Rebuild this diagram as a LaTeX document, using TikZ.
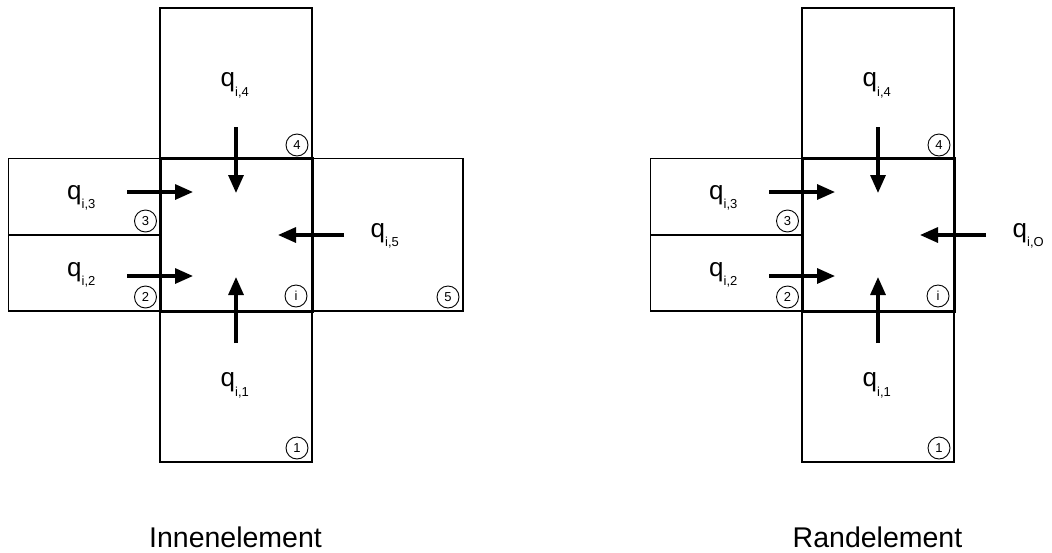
\documentclass[tikz,border=0pt]{standalone}
\usepackage{fontspec}
\setmainfont{Liberation Sans}
\usetikzlibrary{arrows.meta}
\newcommand\qlab[1]{{\fontsize{26}{28}\selectfont q}\raisebox{-9.5pt}{\fontsize{13}{14}\selectfont #1}}
\tikzset{
  cellline/.style={draw=black, line width=1.2pt},
  mainline/.style={draw=black, line width=3pt},
  flow/.style={line width=3.2pt, -{Triangle[length=18pt,width=15pt]}},
  num/.style={circle, draw, line width=0.9pt, inner sep=0pt, minimum size=22pt, font=\fontsize{13}{14}\selectfont},
  qlabel/.style={anchor=base west, inner sep=0pt},
  caption/.style={anchor=base, inner sep=0pt, font=\fontsize{28.5}{30}\selectfont}
}
\begin{document}
\begin{tikzpicture}[x=1pt, y=-1pt]
\useasboundingbox (0,0) rectangle (1052,552);
\foreach \s/\dx/\lab/\cap in {L/0/5/Innenelement, R/642/O/Randelement} {
  \begin{scope}[xshift=\dx pt]
    % neighbouring cells
    \draw[cellline] (160,8) rectangle (312,158.5);
    \draw[cellline] (160,311) rectangle (312,462);
    \draw[cellline] (8.5,158.5) rectangle (160,235);
    \draw[cellline] (8.5,235) rectangle (160,311);
    % element i
    \draw[mainline] (160,158.5) rectangle (312,311);
    % cell numbers
    \node[num] (n4\s) at (297,145) {4};
    \node[num] (n3\s) at (145.5,221) {3};
    \node[num] (n2\s) at (145.5,297) {2};
    \node[num] (ni\s) at (296,296) {i};
    \node[num] (n1\s) at (297,448) {1};
    % flow arrows
    \coordinate (s3\s) at (127,192);  \coordinate (e3\s) at (193,192);
    \coordinate (s2\s) at (127,276);  \coordinate (e2\s) at (193,276);
    \coordinate (s4\s) at (236,127);  \coordinate (e4\s) at (236,193);
    \coordinate (s1\s) at (236,343);  \coordinate (e1\s) at (236,277);
    \coordinate (s5\s) at (344,235);  \coordinate (e5\s) at (278,235);
    \draw[flow] (s3\s) -- (e3\s);
    \draw[flow] (s2\s) -- (e2\s);
    \draw[flow] (s4\s) -- (e4\s);
    \draw[flow] (s1\s) -- (e1\s);
    \draw[flow] (s5\s) -- (e5\s);
    % labels
    \node[qlabel] (q4\s) at (220.5,86.5) {\qlab{i,4}};
    \node[qlabel] (q1\s) at (220.5,386.5) {\qlab{i,1}};
    \node[qlabel] (q3\s) at (67,199) {\qlab{i,3}};
    \node[qlabel] (q2\s) at (67,276) {\qlab{i,2}};
    \node[qlabel] (q5\s) at (370.5,237) {\qlab{i,\lab}};
    \node[caption] (cap\s) at (235.5,547) {\cap};
  \end{scope}
}
% cell 5 (interior element only)
\draw[cellline] (312,158.5) rectangle (463,311);
\node[num] (n5L) at (448,297) {5};
% redraw element border on top
\draw[mainline] (160,158.5) rectangle (312,311);
\end{tikzpicture}
\end{document}
